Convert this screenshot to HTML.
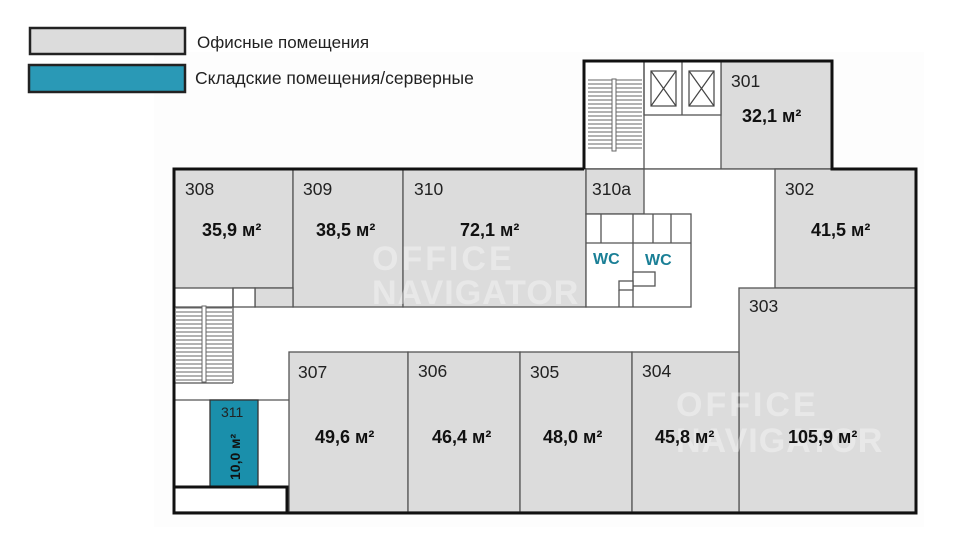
<!DOCTYPE html>
<html><head><meta charset="utf-8"><style>
body{margin:0;background:#fff;width:975px;height:550px;overflow:hidden}
svg text{font-family:"Liberation Sans",sans-serif}
</style></head><body>
<svg width="975" height="550" viewBox="0 0 975 550" xmlns="http://www.w3.org/2000/svg">
<rect x="0" y="0" width="975" height="550" fill="#fff"/>
<rect x="154" y="52" width="770" height="475" fill="#fdfdfd"/>
<!-- legend -->
<rect x="30" y="28" width="155" height="26" fill="#dcdcdc" stroke="#222" stroke-width="2.5"/>
<rect x="29" y="65" width="156" height="27" fill="#2a99b6" stroke="#222" stroke-width="2.5"/>
<text x="197" y="48" font-size="17" fill="#222">Офисные помещения</text>
<text x="195" y="84" font-size="17.5" fill="#222">Складские помещения/серверные</text>

<g stroke="#555" stroke-width="1.3">
<rect x="584" y="61" width="248" height="108" fill="#fff"/>
<rect x="721" y="61" width="111" height="108" fill="#dcdcdc"/>
<rect x="644" y="61" width="77" height="54" fill="#fff"/>
<line x1="682" y1="61" x2="682" y2="115"/>
<line x1="644" y1="61" x2="644" y2="169"/>
<rect x="174" y="169" width="742" height="343" fill="#fff"/>
<rect x="174" y="169" width="119" height="119" fill="#dcdcdc"/>
<rect x="293" y="169" width="110" height="138" fill="#dcdcdc"/>
<rect x="403" y="169" width="183" height="138" fill="#dcdcdc"/>
<rect x="255" y="288" width="38" height="19" fill="#dcdcdc"/>
<rect x="233" y="288" width="22" height="19" fill="#fff"/>
<line x1="174" y1="307" x2="233" y2="307"/>
<line x1="233" y1="288" x2="233" y2="383"/>
<line x1="174" y1="383" x2="233" y2="383"/>
<line x1="174" y1="400" x2="289" y2="400"/>
<rect x="586" y="169" width="58" height="45" fill="#dcdcdc"/>
<rect x="586" y="214" width="105" height="93" fill="#fff"/>
<line x1="586" y1="243" x2="691" y2="243"/>
<line x1="601" y1="214" x2="601" y2="243"/>
<line x1="633" y1="214" x2="633" y2="243"/>
<line x1="653" y1="214" x2="653" y2="243"/>
<line x1="671" y1="214" x2="671" y2="243"/>
<line x1="633" y1="243" x2="633" y2="307"/>
<rect x="633" y="272" width="22" height="14" fill="#fff"/>
<rect x="619" y="281" width="14" height="9" fill="#fff"/>
<line x1="619" y1="290" x2="619" y2="307"/>
<rect x="775" y="169" width="141" height="119" fill="#dcdcdc"/>
<rect x="739" y="288" width="177" height="224" fill="#dcdcdc"/>
<rect x="289" y="352" width="119" height="160" fill="#dcdcdc"/>
<rect x="408" y="352" width="112" height="160" fill="#dcdcdc"/>
<rect x="520" y="352" width="112" height="160" fill="#dcdcdc"/>
<rect x="632" y="352" width="107" height="160" fill="#dcdcdc"/>
<rect x="210" y="400" width="48" height="87" fill="#1a8fab" stroke="#333"/>
</g>
<g stroke="#666" stroke-width="1">
<line x1="588" y1="80" x2="642" y2="80"/><line x1="588" y1="84" x2="642" y2="84"/><line x1="588" y1="88" x2="642" y2="88"/><line x1="588" y1="92" x2="642" y2="92"/><line x1="588" y1="96" x2="642" y2="96"/><line x1="588" y1="100" x2="642" y2="100"/><line x1="588" y1="104" x2="642" y2="104"/><line x1="588" y1="108" x2="642" y2="108"/><line x1="588" y1="112" x2="642" y2="112"/><line x1="588" y1="116" x2="642" y2="116"/><line x1="588" y1="120" x2="642" y2="120"/><line x1="588" y1="124" x2="642" y2="124"/><line x1="588" y1="128" x2="642" y2="128"/><line x1="588" y1="132" x2="642" y2="132"/><line x1="588" y1="136" x2="642" y2="136"/><line x1="588" y1="140" x2="642" y2="140"/><line x1="588" y1="144" x2="642" y2="144"/><line x1="588" y1="148" x2="642" y2="148"/>
<line x1="176" y1="308" x2="232" y2="308"/><line x1="176" y1="312" x2="232" y2="312"/><line x1="176" y1="316" x2="232" y2="316"/><line x1="176" y1="320" x2="232" y2="320"/><line x1="176" y1="324" x2="232" y2="324"/><line x1="176" y1="328" x2="232" y2="328"/><line x1="176" y1="332" x2="232" y2="332"/><line x1="176" y1="336" x2="232" y2="336"/><line x1="176" y1="340" x2="232" y2="340"/><line x1="176" y1="344" x2="232" y2="344"/><line x1="176" y1="348" x2="232" y2="348"/><line x1="176" y1="352" x2="232" y2="352"/><line x1="176" y1="356" x2="232" y2="356"/><line x1="176" y1="360" x2="232" y2="360"/><line x1="176" y1="364" x2="232" y2="364"/><line x1="176" y1="368" x2="232" y2="368"/><line x1="176" y1="372" x2="232" y2="372"/><line x1="176" y1="376" x2="232" y2="376"/><line x1="176" y1="380" x2="232" y2="380"/>
</g>
<rect x="612" y="79" width="4" height="72" fill="#fff" stroke="#666"/>
<rect x="202" y="306" width="4" height="76" fill="#fff" stroke="#666"/>
<g stroke="#444" stroke-width="1.2" fill="none">
<rect x="651" y="71" width="25" height="35"/><line x1="651" y1="71" x2="676" y2="106"/><line x1="676" y1="71" x2="651" y2="106"/>
<rect x="689" y="71" width="25" height="35"/><line x1="689" y1="71" x2="714" y2="106"/><line x1="714" y1="71" x2="689" y2="106"/>
</g>
<g stroke="#111" stroke-width="3" fill="none">
<polyline points="584,169 584,61 832,61 832,169 916,169 916,513 174,513 174,169 584,169"/>
<rect x="174" y="487" width="113" height="26"/>
</g>
<g fill="#fff" opacity="0.35" font-weight="bold" font-size="34">
<text x="372" y="270" letter-spacing="3">OFFICE</text>
<text x="372" y="304" letter-spacing="1">NAVIGATOR</text>
<text x="676" y="416" letter-spacing="3">OFFICE</text>
<text x="676" y="452" letter-spacing="1">NAVIGATOR</text>
</g>
<g font-size="17.5" fill="#222">
<text x="185" y="195">308</text><text x="303" y="195">309</text><text x="414" y="195">310</text>
<text x="592" y="195">310a</text><text x="731" y="87">301</text><text x="785" y="195">302</text>
<text x="749" y="312">303</text><text x="298" y="378">307</text><text x="418" y="377">306</text>
<text x="530" y="378">305</text><text x="642" y="377">304</text>
<text x="221" y="417" font-size="14">311</text>
</g>
<g font-size="18" font-weight="bold" fill="#111">
<text x="202" y="236">35,9 м²</text><text x="316" y="236">38,5 м²</text><text x="460" y="236">72,1 м²</text>
<text x="742" y="122">32,1 м²</text><text x="811" y="236">41,5 м²</text>
<text x="315" y="443">49,6 м²</text><text x="432" y="443">46,4 м²</text><text x="543" y="443">48,0 м²</text>
<text x="655" y="443">45,8 м²</text><text x="788" y="443">105,9 м²</text>
<text transform="translate(240,480) rotate(-90)" font-size="14">10,0 м²</text>
</g>
<g font-size="16" font-weight="bold" fill="#1a7f96">
<text x="593" y="264">WC</text><text x="645" y="265">WC</text>
</g>
</svg>
</body></html>
